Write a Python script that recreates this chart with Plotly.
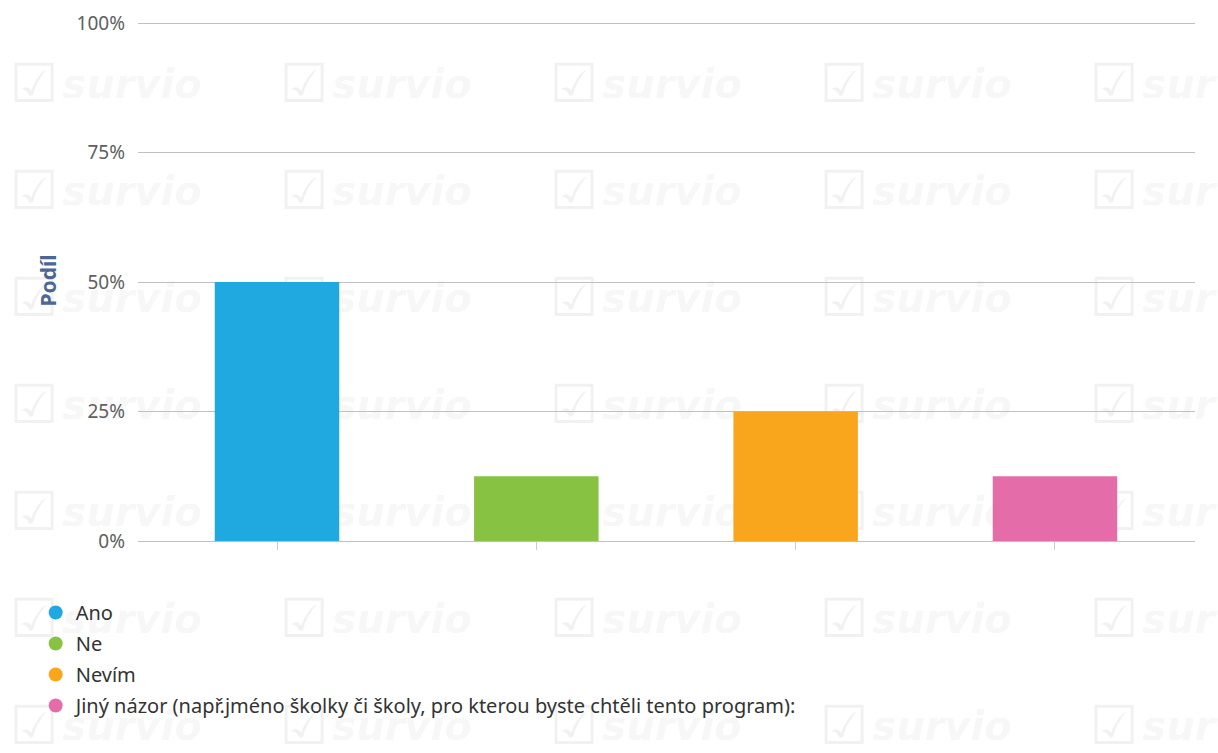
import plotly.graph_objects as go

# ---- data ----
categories = ["Ano", "Ne", "Nevím",
              "Jiný názor (např.jméno školky či školy, pro kterou byste chtěli tento program):"]
shares = [50.0, 12.5, 25.0, 12.5]
colors = ["#20A9E1", "#87C242", "#F9A61C", "#E46CA8"]
y_ticks = [0, 25, 50, 75, 100]
y_tick_labels = ["0%", "25%", "50%", "75%", "100%"]

# watermark grid (decorative background, figure pixels)
wm_col_starts = [10, 280, 550, 820, 1090]
wm_rows = [-19, 88, 195, 302, 409, 516, 623, 730]

W, H = 1218, 753
PL, PR, PT, PB = 138, 1195, 23, 541   # plot area in pixels
PT_EXT = 20                           # a few px of headroom so the 100% gridline shows
y_top = 100.0 * (PB - PT_EXT) / (PB - PT)

fig = go.Figure()

# background watermark on a full-figure subplot, drawn beneath the chart subplot
ix, iy, tx, ty = [], [], [], []
for r in wm_rows:
    for c in wm_col_starts:
        ix.append(c + 24)
        iy.append(r)
        tx.append(c + 122)
        ty.append(r)
wm_color = "rgba(0,0,0,0.055)"
fig.add_trace(go.Scatter(
    x=ix, y=iy, mode="text", text=["☑"] * len(ix),
    textposition="middle center",
    textfont=dict(family="DejaVu Sans", size=54, color=wm_color),
    cliponaxis=True, hoverinfo="skip", showlegend=False,
    xaxis="x", yaxis="y",
))
fig.add_trace(go.Scatter(
    x=tx, y=ty, mode="text", text=["survio"] * len(tx),
    textposition="middle center",
    textfont=dict(family="DejaVu Sans", size=40, color=wm_color,
                  weight="bold", style="italic"),
    cliponaxis=True, hoverinfo="skip", showlegend=False,
    xaxis="x", yaxis="y",
))

# bars
xpos = list(range(len(categories)))
fig.add_trace(go.Bar(
    x=xpos, y=shares, width=0.48,
    marker=dict(color=colors, line=dict(width=0)),
    showlegend=False, xaxis="x2", yaxis="y2",
    hovertext=categories, hoverinfo="text+y",
))

# legend entries (circle markers)
for i, (name, col) in enumerate(zip(categories, colors)):
    fig.add_trace(go.Scatter(
        x=[None], y=[None], mode="markers", name=name,
        marker=dict(color=col, size=14, symbol="circle"),
        legendgroup=f"g{i}", xaxis="x2", yaxis="y2",
    ))

fig.update_layout(
    width=W, height=H,
    margin=dict(l=0, r=0, t=0, b=0, pad=0, autoexpand=False),
    paper_bgcolor="white", plot_bgcolor="rgba(0,0,0,0)",
    font=dict(family="Noto Sans", color="#333333"),
    xaxis=dict(domain=[0, 1], range=[0, W], visible=False, fixedrange=True,
               anchor="y"),
    yaxis=dict(domain=[0, 1], range=[H, 0], visible=False, fixedrange=True,
               anchor="x"),
    xaxis2=dict(domain=[PL / W, PR / W], anchor="y2", range=[-0.536, 3.54],
                tickvals=xpos, ticktext=[""] * len(xpos), ticks="outside",
                ticklen=8, tickcolor="#cccccc", showgrid=False, zeroline=False,
                showline=True, linecolor="#c0c0c0", linewidth=1,
                automargin=False),
    yaxis2=dict(domain=[(H - PB) / H, (H - PT_EXT) / H], anchor="x2",
                range=[0, y_top], tickvals=y_ticks, ticktext=y_tick_labels,
                showgrid=True, gridcolor="#c0c0c0", gridwidth=1,
                zeroline=False, showline=False, automargin=False,
                tickfont=dict(family="Noto Sans", size=19, color="#606060"),
                ticklabelstandoff=12,
                title=dict(text="Podíl", standoff=14,
                           font=dict(family="Noto Sans", size=21,
                                     color="#4c6890", weight="bold"))),
    legend=dict(x=0.0293, xanchor="left", y=0.2124, yanchor="top",
                orientation="v", tracegroupgap=2,
                font=dict(family="Noto Sans", size=20, color="#333333"),
                bgcolor="rgba(0,0,0,0)", itemclick=False),
    showlegend=True,
)

fig.write_html(
    "out.html",
    config={"displayModeBar": False},
    post_script="document.body.style.margin='0';document.body.style.overflow='hidden';",
)
